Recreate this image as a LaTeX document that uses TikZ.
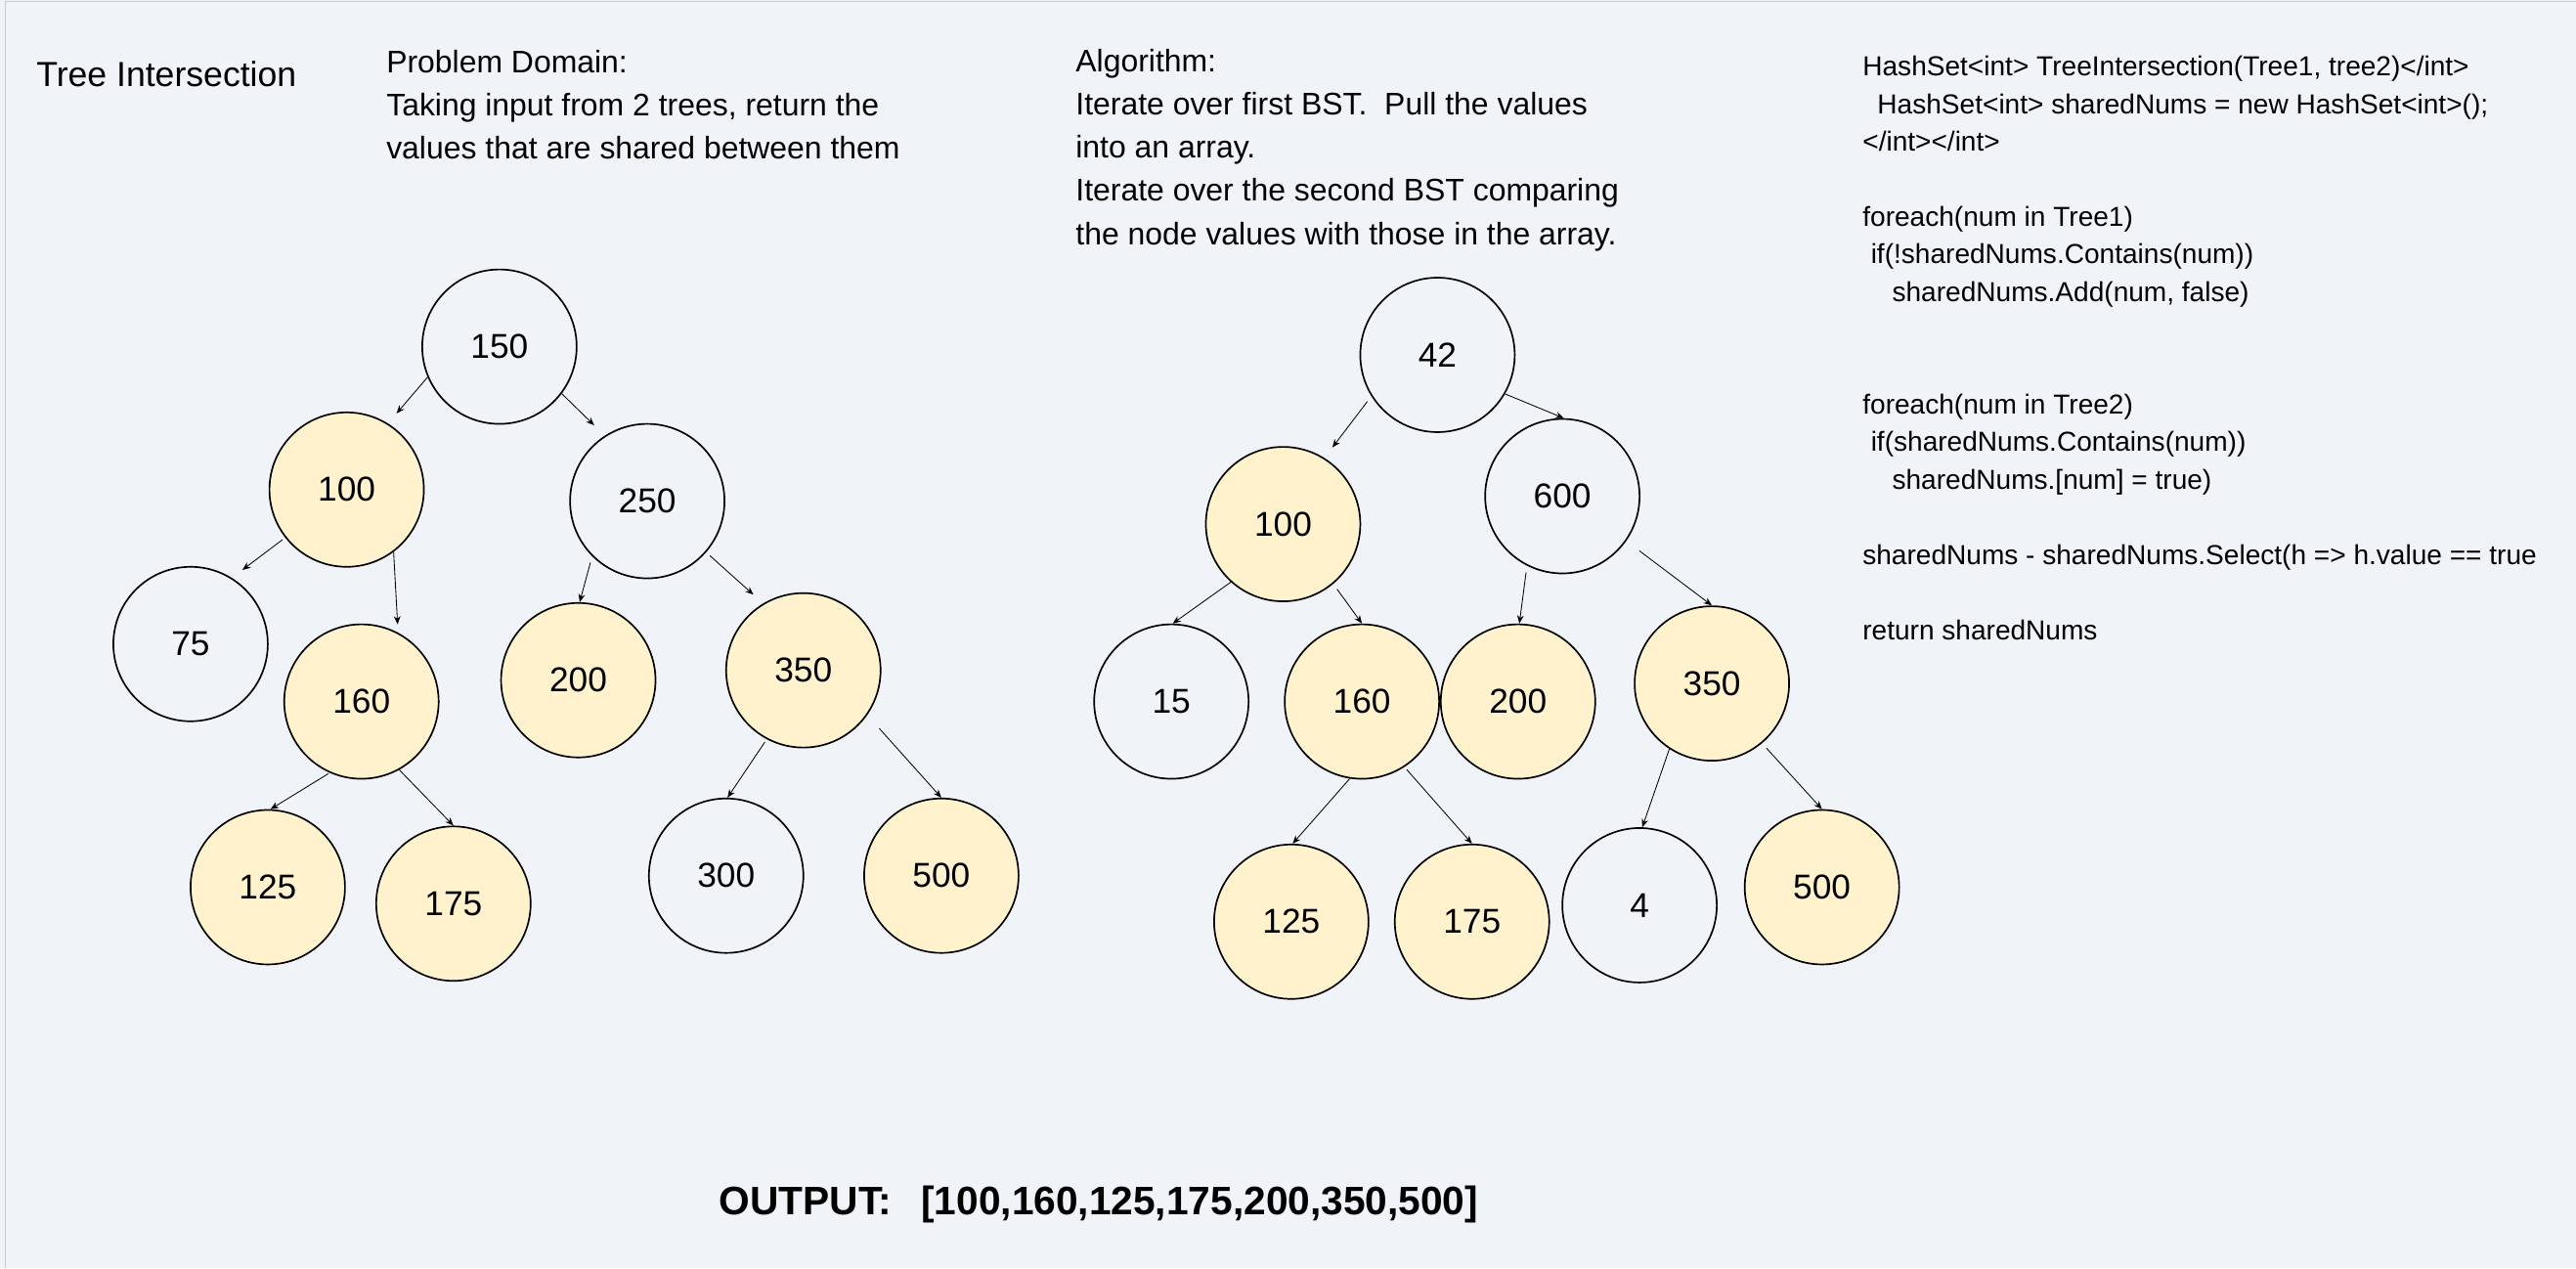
\documentclass[tikz,border=0pt]{standalone}
\usepackage{fontspec}
\setmainfont{Liberation Sans}
\usetikzlibrary{arrows.meta}
\definecolor{paper}{RGB}{240,244,248}
\definecolor{shared}{RGB}{255,242,204}
\definecolor{frame}{RGB}{200,205,210}

\begin{document}
\begin{tikzpicture}[x=1pt,y=-1pt,
    bst/.style={circle,draw,line width=1pt,minimum size=94pt,inner sep=0pt,font=\fontsize{21}{25}\selectfont},
    hit/.style={bst,fill=shared},
    link/.style={-{Stealth[length=5pt,width=4pt]},line width=0.5pt},
    txt/.style={anchor=north west,inner sep=0pt,align=left}]
  \fill[paper] (0,0) rectangle (1568,771.8);
  \useasboundingbox (0,0) rectangle (1568,771.8);
  \draw[frame] (3,771.8) -- (3,0.5) -- (1568,0.5);

  % texts
  \node[anchor=base west,inner sep=0pt,font=\fontsize{21.2}{25}\selectfont] (title) at (22,52.6) {Tree Intersection};
  \node[txt,font=\fontsize{19}{26.2}\selectfont] (domain) at (235,30.4)
    {Problem Domain:\\Taking input from 2 trees, return the\\values that are shared between them};
  \node[txt,font=\fontsize{19}{26.2}\selectfont] (algo) at (654.6,30.0)
    {Algorithm:\\Iterate over first BST.\ \ Pull the values\\into an array.\\Iterate over the second BST comparing\\the node values with those in the array.};
  \node[txt,font=\fontsize{16.7}{22.87}\selectfont] (code) at (1133.6,33.9)
    {HashSet<int> TreeIntersection(Tree1, tree2)</int>\\
     \hspace*{9pt}HashSet<int> sharedNums = new HashSet<int>();\\
     </int></int>\\
     \mbox{}\\
     foreach(num in Tree1)\\
     \hspace*{5pt}if(!sharedNums.Contains(num))\\
     \hspace*{18pt}sharedNums.Add(num, false)\\
     \mbox{}\\
     \mbox{}\\
     foreach(num in Tree2)\\
     \hspace*{5pt}if(sharedNums.Contains(num))\\
     \hspace*{18pt}sharedNums.[num] = true)\\
     \mbox{}\\
     sharedNums - sharedNums.Select(h => h.value == true\\
     \mbox{}\\
     return sharedNums};
  \node[anchor=base west,inner sep=0pt,font=\bfseries\fontsize{24.2}{29}\selectfont] (output) at (437.7,739.5)
    {OUTPUT:\hspace{18pt}[100,160,125,175,200,350,500]};

  % first tree
  \node[bst] (A150) at (304,211) {150};
  \node[hit] (A100) at (211,298) {100};
  \node[bst] (A250) at (394,305) {250};
  \node[bst] (A75)  at (116,392) {75};
  \node[hit] (A160) at (220,427) {160};
  \node[hit] (A200) at (352,414) {200};
  \node[hit] (A350) at (489,408) {350};
  \node[hit] (A125) at (163,540) {125};
  \node[hit] (A175) at (276,550) {175};
  \node[bst] (A300) at (442,533) {300};
  \node[hit] (A500) at (573,533) {500};

  \draw[link,shorten >=8pt] (A150.203) -- (A100.58);
  \draw[link,shorten >=9pt] (A150.-37) -- (A250.123);
  \draw[link,shorten <=2pt,shorten >=8pt] (A100.218) -- (A75.58);
  \draw[link,shorten >=5pt] (A100.-53) -- (A160.62);
  \draw[link,shorten <=4pt] (A250.225) -- (A200.89);
  \draw[link,shorten <=3pt,shorten >=8pt] (A250.-41) -- (A350.121);
  \draw[link,shorten <=1pt] (A160.246) -- (A125.88);
  \draw[link] (A160.-61) -- (A175.90);
  \draw[link,shorten <=2pt] (A350.242) -- (A300.89);
  \draw[link,shorten <=11pt] (A350.-35) -- (A500.90);

  % second tree
  \node[bst] (B42)  at (875,216) {42};
  \node[hit] (B100) at (781,319) {100};
  \node[bst] (B600) at (951,302) {600};
  \node[bst] (B15)  at (713,427) {15};
  \node[hit] (B160) at (829,427) {160};
  \node[hit] (B200) at (924,427) {200};
  \node[hit] (B350) at (1042,416) {350};
  \node[hit] (B125) at (786,561) {125};
  \node[hit] (B175) at (896,561) {175};
  \node[bst] (B4)   at (998,551) {4};
  \node[hit] (B500) at (1109,540) {500};

  \draw[link,shorten <=4pt,shorten >=8pt] (B42.212) -- (B100.58);
  \draw[link] (B42.-30) -- (B600.89);
  \draw[link] (B100.228) -- (B15.89);
  \draw[link,shorten <=4pt] (B100.-50) -- (B160.90);
  \draw[link,shorten <=4pt] (B600.243) -- (B200.89);
  \draw[link,shorten <=10pt] (B600.-35) -- (B350.90);
  \draw[link] (B160.261) -- (B125.89);
  \draw[link,shorten <=2pt] (B160.-57) -- (B175.90);
  \draw[link] (B350.237) -- (B4.88);
  \draw[link,shorten <=4pt] (B350.-50) -- (B500.90);
\end{tikzpicture}
\end{document}
